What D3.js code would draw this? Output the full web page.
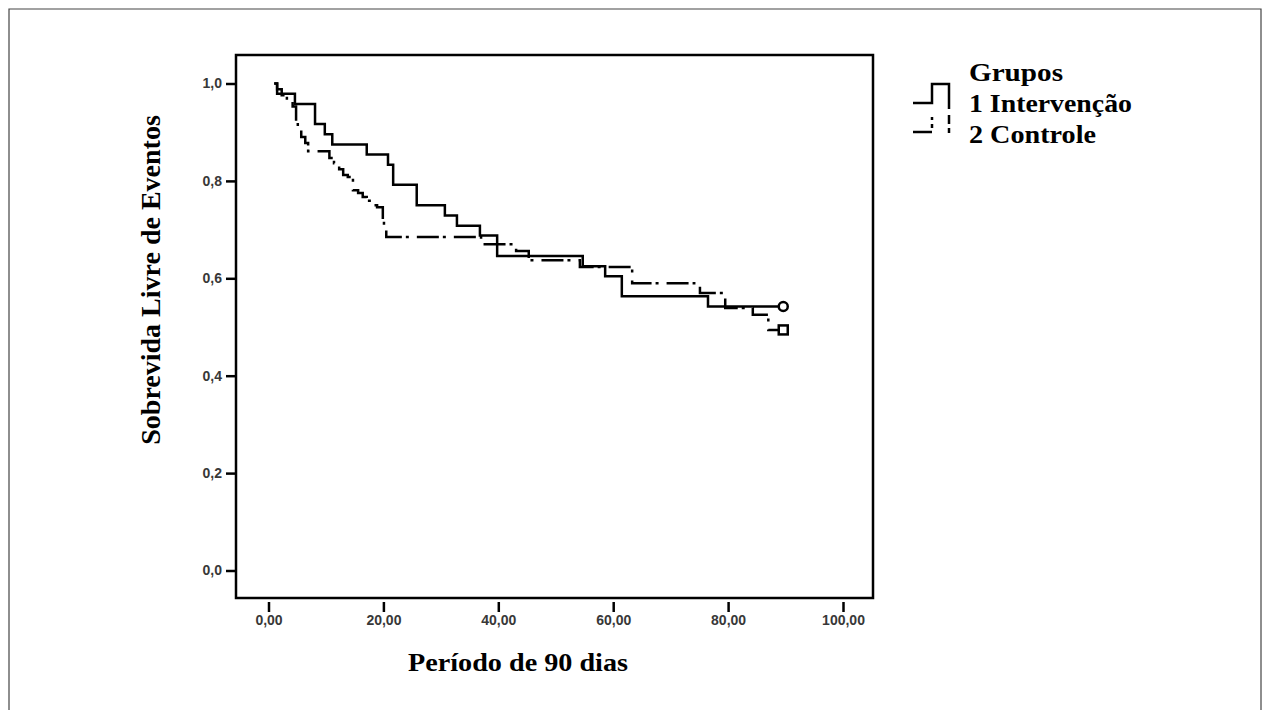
<!DOCTYPE html>
<html>
<head>
<meta charset="utf-8">
<script src="https://cdn.jsdelivr.net/npm/d3@7"></script>
<style>
  html, body { margin: 0; padding: 0; background: #fff; }
  svg { display: block; }
</style>
</head>
<body>
<svg id="chart" width="1265" height="710"></svg>
<script>
// ---- data ----
const xTicks = [0, 20, 40, 60, 80, 100];
const yTicks = [0, 0.2, 0.4, 0.6, 0.8, 1.0];

const groupNames = ["1 Intervenção", "2 Controle"];
const legendTitle = "Grupos";
const xTitle = "Período de 90 dias";
const yTitle = "Sobrevida Livre de Eventos";

const intervTimes = [1.0, 1.5, 4.6, 8.1, 9.8, 11.1, 17.1, 20.8, 21.7, 25.8, 30.7, 32.8, 36.8, 39.8, 54.7, 58.6, 61.5, 76.5, 89.6];
const intervSurv  = [1.0, 0.979, 0.958, 0.917, 0.896, 0.875, 0.854, 0.833, 0.792, 0.750, 0.729, 0.708, 0.688, 0.646, 0.625, 0.604, 0.563, 0.542, 0.542];

const controlTimes = [1.0, 1.5, 2.3, 3.2, 4.2, 4.8, 5.1, 5.7, 6.4, 6.9, 10.6, 11.4, 12.3, 13.0, 13.8, 14.7, 15.6, 16.4, 17.1, 18.0, 18.9, 19.9, 20.1, 20.5, 37.0, 43.1, 45.3, 54.2, 63.3, 74.1, 75.1, 79.5, 84.3, 87.0, 89.6];
const controlSurv  = [1.0, 0.988, 0.976, 0.965, 0.953, 0.921, 0.909, 0.890, 0.878, 0.861, 0.847, 0.836, 0.824, 0.812, 0.808, 0.781, 0.775, 0.767, 0.759, 0.750, 0.746, 0.720, 0.699, 0.685, 0.670, 0.656, 0.637, 0.623, 0.590, 0.580, 0.570, 0.539, 0.525, 0.494, 0.494];

// ---- layout ----
const svg = d3.select("#chart");
const frame = {left: 236, top: 55, right: 873, bottom: 598};
const x = d3.scaleLinear().domain([0, 100]).range([268.5, 843]);
const y = d3.scaleLinear().domain([0, 1]).range([570.5, 83.5]);

// outer border (top, left, right)
svg.append("path")
  .attr("d", "M9,710 L9,9 L1261,9 L1261,710")
  .attr("fill", "none").attr("stroke", "#444").attr("stroke-width", 1.2);

// plot frame
svg.append("rect")
  .attr("x", frame.left).attr("y", frame.top)
  .attr("width", frame.right - frame.left).attr("height", frame.bottom - frame.top)
  .attr("fill", "none").attr("stroke", "#000").attr("stroke-width", 2.5);

// axes
const sans = "'Liberation Sans', Arial, sans-serif";
const yAxis = d3.axisLeft(y).tickValues(yTicks)
  .tickFormat(d => d.toFixed(1).replace(".", ","))
  .tickSize(10).tickPadding(4);
const gy = svg.append("g").attr("transform", `translate(${frame.left},0)`).call(yAxis);
gy.select(".domain").remove();
gy.selectAll("line").attr("stroke", "#000").attr("stroke-width", 2.5);
gy.selectAll("text").attr("font-family", sans).attr("font-weight", "bold")
  .attr("font-size", 14).attr("fill", "#383838");

const xAxis = d3.axisBottom(x).tickValues(xTicks)
  .tickFormat(d => d.toFixed(2).replace(".", ","))
  .tickSize(10).tickPadding(3);
const gx = svg.append("g").attr("transform", `translate(0,${frame.bottom + 4})`).call(xAxis);
gx.select(".domain").remove();
gx.selectAll("line").attr("stroke", "#000").attr("stroke-width", 2.5);
gx.selectAll("text").attr("font-family", sans).attr("font-weight", "bold")
  .attr("font-size", 14).attr("fill", "#383838");

// titles
const serif = "'Liberation Serif', 'Times New Roman', serif";
svg.append("text").text(xTitle)
  .attr("x", 408).attr("y", 671)
  .attr("font-family", serif).attr("font-weight", "bold").attr("font-size", 25)
  .attr("textLength", 220).attr("lengthAdjust", "spacingAndGlyphs");

svg.append("text").text(yTitle)
  .attr("transform", "translate(160,280) rotate(-90)")
  .attr("text-anchor", "middle")
  .attr("font-family", serif).attr("font-weight", "bold").attr("font-size", 28);

// curves
const line = d3.line().x(d => x(d[0])).y(d => y(d[1])).curve(d3.curveStepAfter);
const interv = intervTimes.map((t, i) => [t, intervSurv[i]]);
const control = controlTimes.map((t, i) => [t, controlSurv[i]]);

svg.append("path").datum(control).attr("d", line)
  .attr("fill", "none").attr("stroke", "#000").attr("stroke-width", 2.5)
  .attr("stroke-dasharray", "22,4,3,8");
svg.append("path").datum(interv).attr("d", line)
  .attr("fill", "none").attr("stroke", "#000").attr("stroke-width", 2.5);

// censor markers at end
const li = interv[interv.length - 1];
svg.append("circle").attr("cx", x(li[0])).attr("cy", y(li[1])).attr("r", 4.5)
  .attr("fill", "#fff").attr("stroke", "#000").attr("stroke-width", 2.5);
const lc = control[control.length - 1];
svg.append("rect").attr("x", x(lc[0]) - 4.5).attr("y", y(lc[1]) - 4.5)
  .attr("width", 9).attr("height", 9)
  .attr("fill", "#fff").attr("stroke", "#000").attr("stroke-width", 2.5);

// legend
svg.append("path").attr("d", "M913,103 H932 V84 H949 V109")
  .attr("fill", "none").attr("stroke", "#000").attr("stroke-width", 2.5);
svg.append("path").attr("d", "M913,132 H932 M932,128 V124 M932,120 V117 M949,115 V124 M949,128 V133")
  .attr("fill", "none").attr("stroke", "#000").attr("stroke-width", 2.5);

const legTexts = [legendTitle, ...groupNames];
const legW = [94, 163, 127];
svg.selectAll("text.leg").data(legTexts).enter().append("text")
  .attr("class", "leg")
  .attr("x", 969).attr("y", (d, i) => 81 + i * 31)
  .attr("font-family", serif).attr("font-weight", "bold").attr("font-size", 25)
  .attr("textLength", (d, i) => legW[i]).attr("lengthAdjust", "spacingAndGlyphs")
  .text(d => d);
</script>
</body>
</html>
